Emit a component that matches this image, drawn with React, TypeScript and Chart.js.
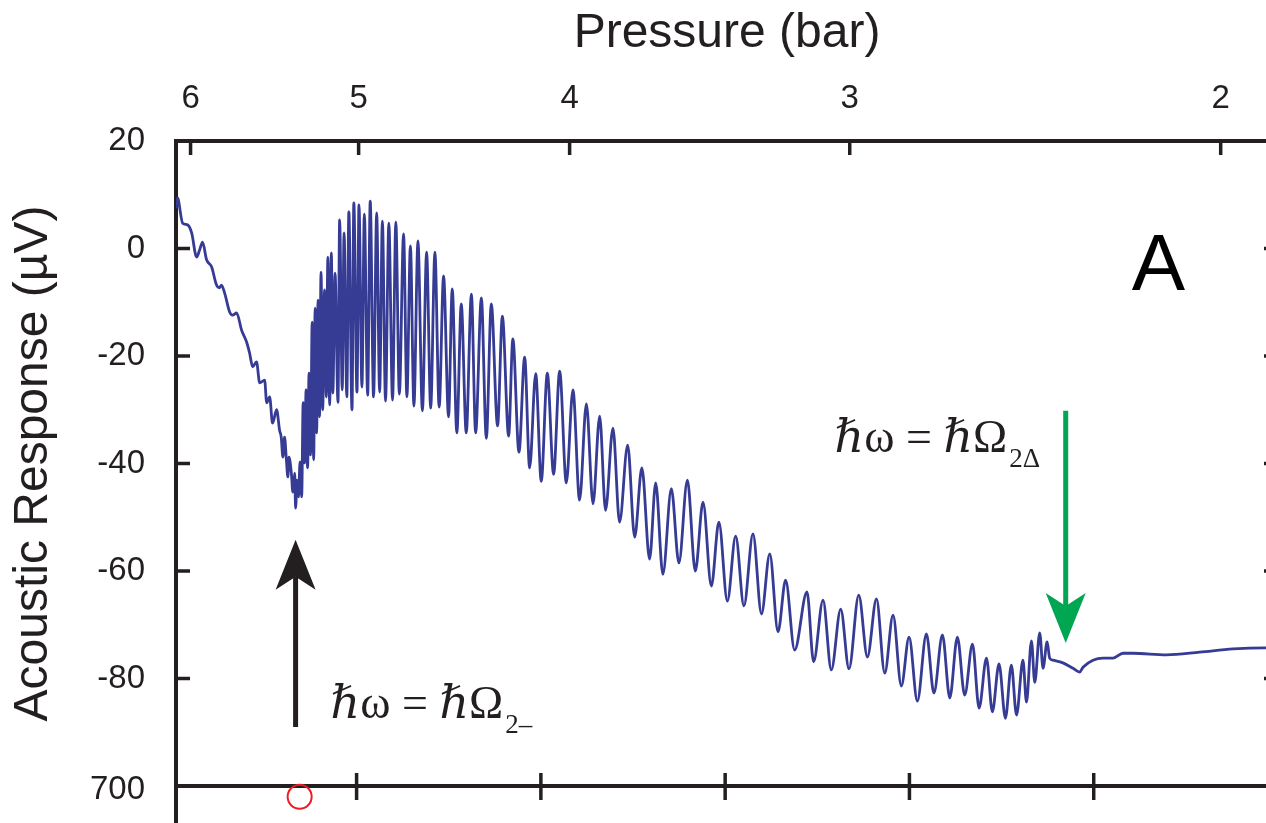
import React, { useEffect, useRef } from 'react';
import { Chart, registerables } from 'chart.js';

Chart.register(...registerables);

// ---- data ----
const fieldValues = [
  2, 2.8, 5.6, 8.3, 10.5, 13.2, 14.8, 16.4, 18.6, 21.3, 24.0, 25.6, 26.7, 28.4, 31.1, 32.7, 34.9, 37.6, 40.3, 41.9,
  43.6, 45.7, 47.4, 50.1, 51.2, 52.8, 54.4, 56.6, 58.2, 59.1, 60.0, 60.9, 61.9, 62.7, 63.3, 64.6, 65.4, 66.4, 66.9, 67.7,
  68.5, 69.3, 70.2, 71.0, 71.8, 72.6, 73.4, 74.2, 75.0, 75.9, 76.7, 77.5, 78.3, 79.1, 79.9, 80.7, 81.6, 82.6, 83.6, 84.4,
  85.4, 86.3, 87.1, 88.3, 89.9, 90.8, 92.2, 93.2, 94.7, 95.8, 97.5, 98.5, 100.2, 101.3, 102.9, 104.2, 106.0, 107.4, 109.2, 110.9,
  112.5, 114.0, 115.7, 117.5, 119.5, 121.3, 123.2, 125.5, 127.3, 129.2, 131.1, 133.3, 135.7, 138.0, 140.2, 142.5, 144.8, 147.2, 149.9, 151.9,
  154.4, 156.8, 159.5, 162.3, 164.6, 167.7, 170.4, 173.1, 176.5, 179.1, 182.5, 184.8, 188.1, 191.2, 193.9, 197.2, 200.2, 203.5, 206.9, 210.2,
  213.8, 217.4, 221.0, 224.7, 228.3, 231.9, 235.1, 239.1, 242.7, 247.1, 250.9, 254.8, 259.0, 262.3, 266.2, 270.8, 274.9, 279.5, 283.8, 288.0,
  292.5, 296.6, 301.2, 305.7, 310.2, 315.1, 319.7, 324.2, 328.7, 332.8, 337.7, 344.4, 348.0, 353.1, 357.6, 362.7, 367.2, 372.5, 377.2, 382.1,
  386.6, 391.1, 395.6, 399.8, 404.3, 409.2, 413.3, 417.9, 421.9, 426.0, 430.0, 434.2, 437.8, 441.8, 445.0, 448.6, 452.1, 455.3, 458.1, 461.6,
  463.5, 466.2, 468.0, 470.7, 472.5, 474.7, 476.1, 477.9, 483.3, 488.8, 492.4, 494.2, 499.6, 505.1, 510.5, 515.9, 521.3, 539.5, 557.5, 575.6,
  593.4, 600,
];

const responseValues = [
  7.5, 9.4, 4.7, 4.4, 2.9, -1.6, -0.3, 1.2, -2.1, -3.4, -6.8, -7.3, -6.8, -8.3, -11.8, -12.4, -12.0, -15.2, -17.4, -19.4,
  -22.0, -21.1, -25.0, -24.5, -28.7, -27.6, -32.5, -30.0, -33.8, -35.1, -38.8, -35.1, -39.3, -42.5, -38.8, -41.8, -45.3, -41.8, -48.3, -43.1,
  -46.2, -39.7, -46.2, -28.7, -39.9, -26.3, -40.8, -23.2, -38.4, -13.7, -39.3, -11.1, -34.3, -9.6, -31.3, -4.4, -30.0, -7.7, -27.6, -1.6,
  -29.1, -0.8, -26.9, -4.6, -28.6, 5.3, -26.3, 2.9, -27.6, 6.8, -30.0, 8.5, -26.7, 8.1, -25.8, 6.4, -27.3, 8.8, -27.6, 6.6,
  -26.7, 5.1, -28.4, 4.7, -28.2, 4.9, -27.1, 2.7, -27.6, 0.5, -29.3, 1.4, -30.2, -0.7, -29.7, -0.7, -29.5, -5.1, -31.3, -7.5,
  -34.3, -10.3, -34.3, -8.5, -34.3, -9.2, -35.3, -10.3, -33.0, -12.6, -34.9, -16.8, -37.9, -20.2, -40.8, -23.3, -43.3, -23.2, -42.0, -22.8,
  -43.6, -26.3, -46.8, -28.9, -47.5, -31.2, -48.7, -33.4, -50.9, -36.6, -53.7, -40.8, -57.8, -43.6, -60.6, -44.7, -58.5, -43.1, -60.0, -47.2,
  -62.8, -50.9, -65.6, -53.5, -66.5, -53.1, -68.0, -56.8, -71.3, -61.7, -74.7, -63.9, -76.9, -65.4, -78.4, -67.1, -78.2, -64.5, -76.0, -65.2,
  -79.0, -68.2, -81.4, -72.3, -84.2, -71.7, -82.7, -71.9, -83.6, -72.3, -83.1, -73.6, -85.5, -76.2, -86.2, -77.3, -87.4, -77.5, -86.8, -76.6,
  -84.4, -73.0, -80.7, -71.5, -78.1, -73.2, -76.2, -76.6, -77.1, -78.1, -78.8, -77.9, -76.6, -76.2, -76.2, -75.3, -75.3, -75.6, -75.1, -74.5,
  -74.3, -74.3,
];

const pressureLabels = ['6', '5', '4', '3', '2'];
const pressureTickFields = [9.9, 101.1, 215.6, 367.6, 568.9];
const fieldTicks = [100, 200, 300, 400, 500];
const responseTicks = [20, 0, -20, -40, -60, -80, -100];
const lowerPanelLabel = '700';

// ---- annotations (data units) ----
const blackArrow = { field: 66.9, from: -89.0, to: -54.2 };
const greenArrow = { field: 484.8, from: -30.2, to: -73.4 };
const blackLabel = { field: 85.9, response: -87.3, main: 'ℏω = ℏΩ', sub: '2–' };
const greenLabel = { field: 359.4, response: -37.9, main: 'ℏω = ℏΩ', sub: '2Δ' };
const panelLabel = { field: 520.6, response: -7.7, text: 'A' };
const redMarker = { field: 69.1, response: -102.0 };

const AXIS = '#231f20';
const LINE = '#363b94';
const GREEN = '#00a651';
const RED = '#ed1c24';
const SANS = '"Liberation Sans", Arial, Helvetica, sans-serif';
const SERIF = '"Liberation Serif", "Times New Roman", "DejaVu Serif", serif';

const decor = {
  id: 'decor',
  afterDraw(chart: any) {
    const { ctx, chartArea } = chart;
    const { left, right, top, bottom } = chartArea;
    const xs = chart.scales.x;
    const ys = chart.scales.y;
    const X = (v: number) => xs.getPixelForValue(v);
    const Y = (v: number) => ys.getPixelForValue(v);
    const seg = (x1: number, y1: number, x2: number, y2: number) => {
      ctx.beginPath();
      ctx.moveTo(x1, y1);
      ctx.lineTo(x2, y2);
      ctx.stroke();
    };
    ctx.save();
    ctx.strokeStyle = AXIS;
    ctx.lineCap = 'butt';
    ctx.lineWidth = 3.5;
    responseTicks.forEach((v) => {
      if (v <= -100 || v >= 20) return;
      const p = Y(v);
      seg(left, p, left + 14, p);
      seg(right, p, right - 14, p);
    });
    pressureTickFields.forEach((v) => {
      const p = X(v);
      seg(p, top, p, top + 14);
    });
    fieldTicks.forEach((v) => {
      const p = X(v);
      seg(p, bottom - 13, p, bottom + 14);
    });
    ctx.lineWidth = 4;
    seg(left, bottom, left, chart.height);

    ctx.fillStyle = AXIS;
    ctx.font = `33px ${SANS}`;
    ctx.textAlign = 'right';
    ctx.textBaseline = 'middle';
    ctx.fillText(lowerPanelLabel, left - 31, Y(-100) + 4);

    // arrows
    const arrow = (a: { field: number; from: number; to: number }, color: string) => {
      const px = X(a.field);
      const tailY = Y(a.from);
      const tipY = Y(a.to);
      const dir = tipY > tailY ? 1 : -1;
      const baseY = tipY - dir * 50;
      ctx.strokeStyle = color;
      ctx.lineWidth = 5;
      seg(px, tailY, px, baseY + dir * 13);
      ctx.fillStyle = color;
      ctx.beginPath();
      ctx.moveTo(px, tipY);
      ctx.lineTo(px - 20, baseY);
      ctx.lineTo(px, baseY + dir * 13);
      ctx.lineTo(px + 20, baseY);
      ctx.closePath();
      ctx.fill();
    };
    arrow(blackArrow, AXIS);
    arrow(greenArrow, GREEN);

    // formula labels
    const formula = (l: { field: number; response: number; main: string; sub: string }) => {
      const x0 = X(l.field);
      const y0 = Y(l.response);
      ctx.fillStyle = AXIS;
      ctx.textAlign = 'left';
      ctx.textBaseline = 'alphabetic';
      ctx.font = `46px ${SERIF}`;
      ctx.fillText(l.main, x0, y0);
      const w = ctx.measureText(l.main).width;
      ctx.font = `27px ${SERIF}`;
      ctx.fillText(l.sub, x0 + w + 2, y0 + 15);
    };
    formula(blackLabel);
    formula(greenLabel);

    // panel letter
    ctx.fillStyle = '#000';
    ctx.font = `80px ${SANS}`;
    ctx.textAlign = 'left';
    ctx.textBaseline = 'alphabetic';
    ctx.fillText(panelLabel.text, X(panelLabel.field), Y(panelLabel.response));

    // red marker
    ctx.strokeStyle = RED;
    ctx.lineWidth = 2;
    ctx.beginPath();
    ctx.arc(X(redMarker.field), Y(redMarker.response), 12, 0, Math.PI * 2);
    ctx.stroke();
    ctx.restore();
  },
};

export default function App() {
  const ref = useRef<HTMLCanvasElement>(null);
  useEffect(() => {
    const canvas = ref.current;
    if (!canvas) return;
    const chart = new Chart(canvas, {
      type: 'line',
      data: {
        datasets: [
          {
            data: fieldValues.map((x, i) => ({ x, y: responseValues[i] })),
            borderColor: LINE,
            borderWidth: 2.8,
            pointRadius: 0,
            fill: false,
            cubicInterpolationMode: 'monotone',
          },
        ],
      },
      options: {
        animation: false,
        responsive: false,
        devicePixelRatio: 1,
        layout: { padding: 0 },
        plugins: { legend: { display: false }, tooltip: { enabled: false } },
        scales: {
          x: {
            type: 'linear',
            position: 'bottom',
            min: 2,
            max: 600,
            afterBuildTicks: (s: any) => {
              s.ticks = fieldTicks.map((v) => ({ value: v }));
            },
            ticks: { display: false },
            grid: { display: false, drawTicks: false },
            border: { display: true, width: 4, color: AXIS },
            afterFit: (s: any) => {
              s.height = 37;
              s.paddingLeft = 0;
              s.paddingRight = 0;
            },
          },
          xTop: {
            type: 'linear',
            position: 'top',
            min: 2,
            max: 600,
            afterBuildTicks: (s: any) => {
              s.ticks = pressureTickFields.map((v) => ({ value: v }));
            },
            ticks: {
              callback: (_v: any, i: number) => pressureLabels[i],
              font: { family: SANS, size: 33 },
              color: AXIS,
              padding: 22,
              maxRotation: 0,
              autoSkip: false,
            },
            grid: { display: false, drawTicks: false },
            border: { display: true, width: 4, color: AXIS },
            title: {
              display: true,
              text: 'Pressure (bar)',
              font: { family: SANS, size: 48 },
              color: AXIS,
              padding: { top: 5, bottom: 0 },
            },
            afterFit: (s: any) => {
              s.height = 141;
              s.paddingLeft = 0;
              s.paddingRight = 0;
            },
          },
          y: {
            type: 'linear',
            position: 'left',
            min: -100,
            max: 20,
            afterBuildTicks: (s: any) => {
              s.ticks = responseTicks.map((v) => ({ value: v }));
            },
            ticks: {
              callback: (v: any) => (v === -100 ? '' : String(v)),
              font: { family: SANS, size: 33 },
              color: AXIS,
              padding: 31,
            },
            grid: { display: false, drawTicks: false },
            border: { display: true, width: 4, color: AXIS },
            title: {
              display: true,
              text: 'Acoustic Response (µV)',
              font: { family: SANS, size: 48 },
              color: AXIS,
              padding: { top: 5, bottom: 0 },
            },
            afterFit: (s: any) => {
              s.width = 176;
              s.paddingTop = 0;
              s.paddingBottom = 0;
            },
          },
          yRight: {
            type: 'linear',
            position: 'right',
            min: -100,
            max: 20,
            ticks: { display: false },
            grid: { display: false, drawTicks: false },
            border: { display: true, width: 4, color: AXIS },
            afterFit: (s: any) => {
              s.width = 12;
              s.paddingTop = 0;
              s.paddingBottom = 0;
            },
          },
        },
      } as any,
      plugins: [decor],
    });
    return () => chart.destroy();
  }, []);

  return (
    <div
      style={{
        position: 'fixed',
        left: 0,
        top: 0,
        width: 1266,
        height: 823,
        overflow: 'hidden',
        background: '#fff',
      }}
    >
      <canvas ref={ref} width={1290} height={823} style={{ display: 'block', width: 1290, height: 823 }} />
    </div>
  );
}
